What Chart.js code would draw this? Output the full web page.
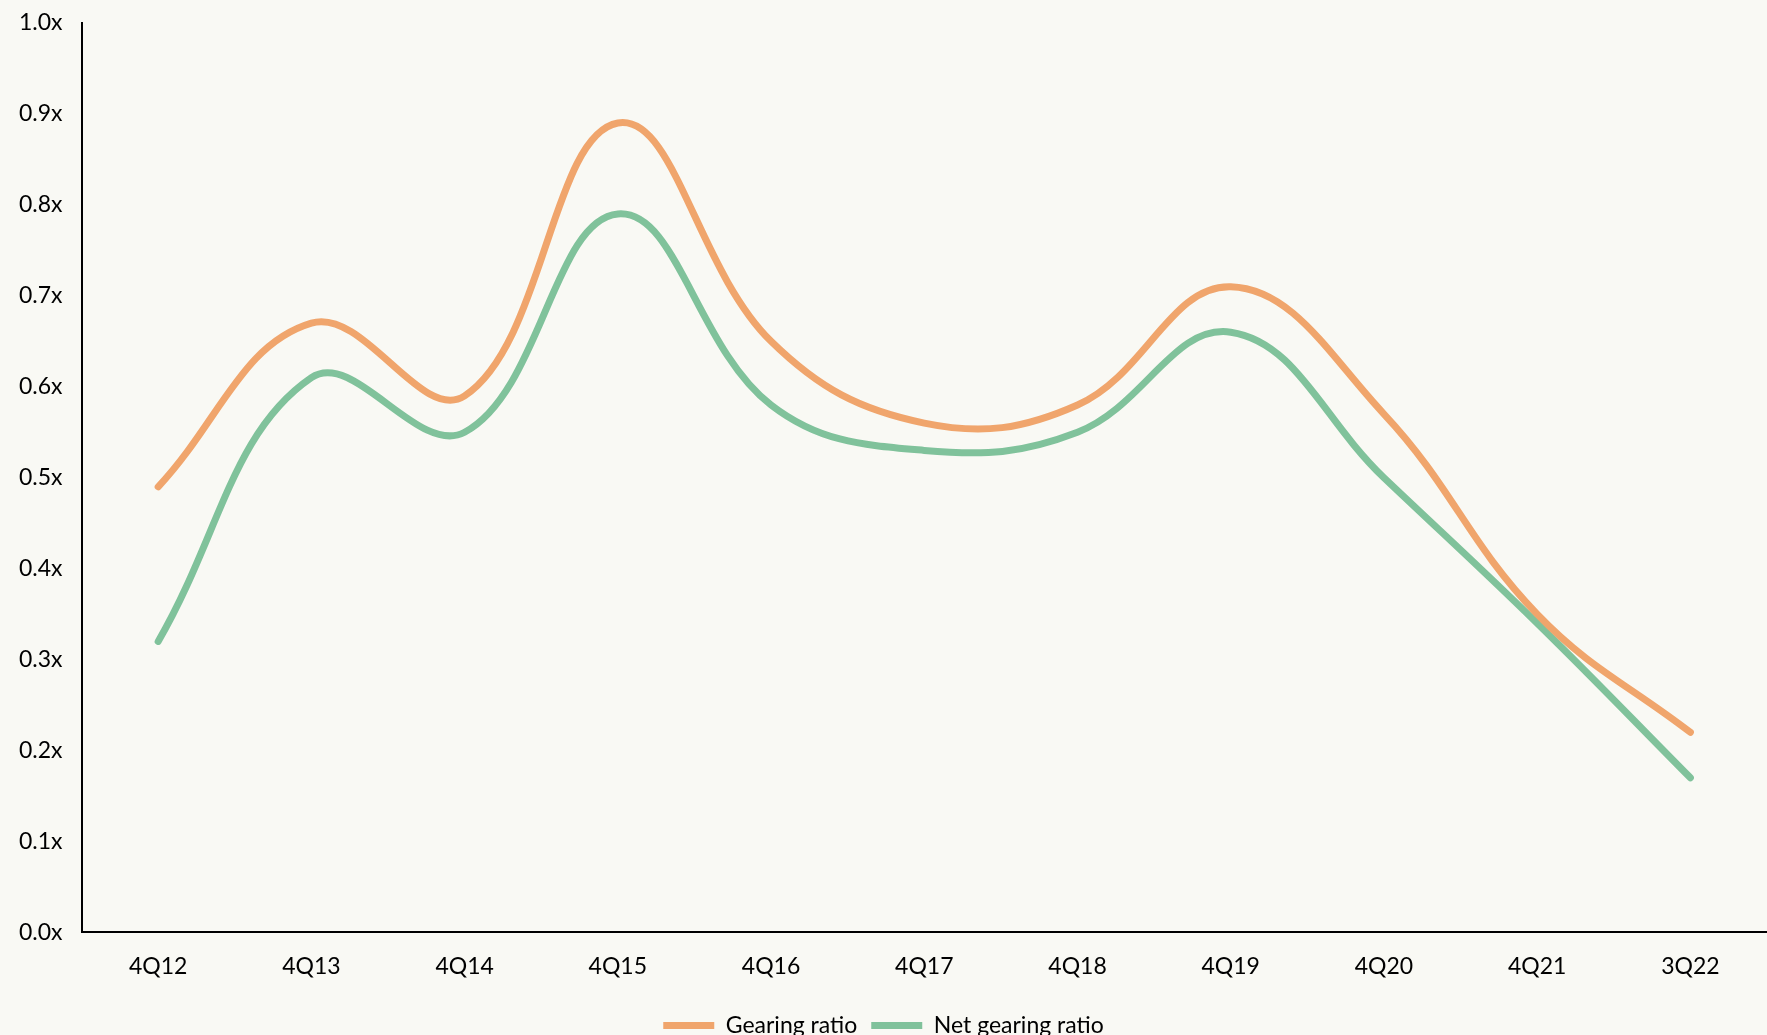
<!DOCTYPE html>
<html>
<head>
<meta charset="utf-8">
<script src="https://cdn.jsdelivr.net/npm/chart.js@4.4.0/dist/chart.umd.min.js"></script>
<style>
    html, body { margin: 0; padding: 0; background: #f9f9f4; }
    #wrap { width: 1767px; height: 1035px; }
</style>
</head>
<body>
<div id="wrap"><canvas id="gearChart" width="1767" height="1035"></canvas></div>
<script>
const quarters = ["4Q12", "4Q13", "4Q14", "4Q15", "4Q16", "4Q17", "4Q18", "4Q19", "4Q20", "4Q21", "3Q22"];
const gearingRatio = [0.49, 0.67, 0.59, 0.89, 0.65, 0.56, 0.58, 0.71, 0.57, 0.35, 0.22];
const netGearingRatio = [0.32, 0.61, 0.55, 0.79, 0.58, 0.53, 0.55, 0.66, 0.50, 0.34, 0.17];

const FONT = "Lato, 'Open Sans', sans-serif";

const bgPlugin = {
    id: "bg",
    beforeDraw(chart) {
        const ctx = chart.ctx;
        ctx.save();
        ctx.fillStyle = "#f9f9f4";
        ctx.fillRect(0, 0, chart.width, chart.height);
        ctx.restore();
    },
};

new Chart(document.getElementById("gearChart").getContext("2d"), {
    type: "line",
    data: {
        labels: quarters,
        datasets: [
            {
                label: "Gearing ratio",
                data: gearingRatio,
                borderColor: "#f0a56c",
                backgroundColor: "#f0a56c",
                borderWidth: 7,
                borderCapStyle: "round",
                pointRadius: 0,
                tension: 0.4,
            },
            {
                label: "Net gearing ratio",
                data: netGearingRatio,
                borderColor: "#80c29b",
                backgroundColor: "#80c29b",
                borderWidth: 7,
                borderCapStyle: "round",
                pointRadius: 0,
                tension: 0.4,
            },
        ],
    },
    options: {
        responsive: false,
        animation: false,
        layout: { padding: { top: 0, right: 0, bottom: -12, left: 0 } },
        plugins: {
            legend: {
                position: "bottom",
                labels: {
                    color: "#000",
                    font: { family: FONT, size: 23 },
                    usePointStyle: true,
                    pointStyle: "line",
                    pointStyleWidth: 51,
                    boxWidth: 51,
                    padding: 14,
                },
            },
            tooltip: { enabled: false },
        },
        scales: {
            x: {
                offset: true,
                grid: { display: false, drawTicks: false },
                border: { color: "#000", width: 2 },
                ticks: { color: "#000", font: { family: FONT, size: 23 }, padding: 20, maxRotation: 0 },
            },
            y: {
                min: 0,
                max: 1,
                grid: { display: false, drawTicks: false },
                border: { color: "#000", width: 2 },
                ticks: {
                    stepSize: 0.1,
                    color: "#000",
                    font: { family: FONT, size: 23 },
                    padding: 19,
                    callback: (v) => v.toFixed(1) + "x",
                },
                // keep the 1.0x label close to the top edge like the original
                afterFit: (scale) => { scale.paddingTop = 23; },
            },
        },
    },
    plugins: [bgPlugin],
});
</script>
</body>
</html>
